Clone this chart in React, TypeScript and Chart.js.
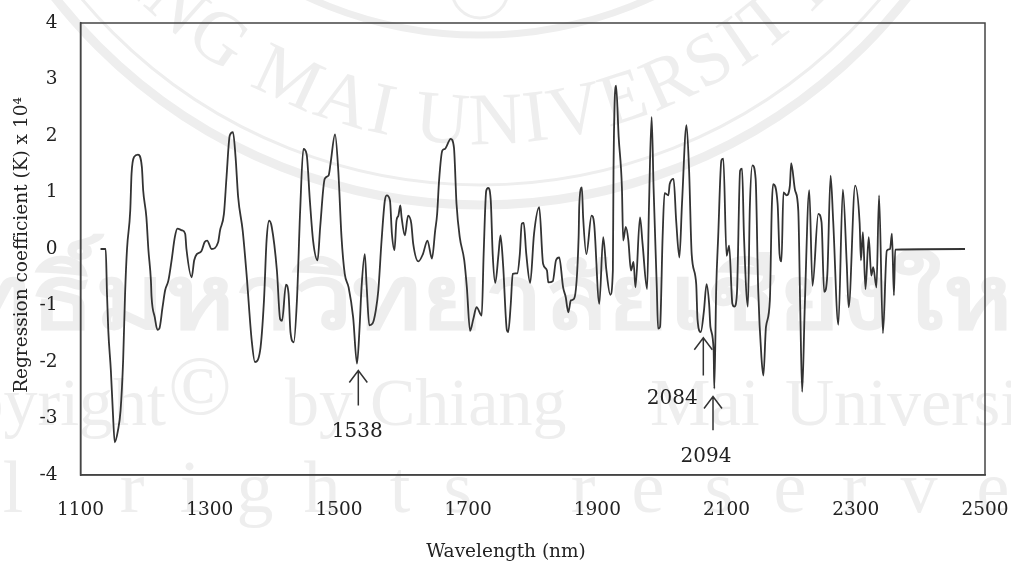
import React, { useEffect, useRef } from "react";
import { Chart, registerables } from "chart.js";

Chart.register(...registerables);

const wavelengths = [
  1131,1139,1141,1143,1147,1150,1153,1158,1162,1166,1169,1172,1177,1179,1183,1189,1195,1197,1202,1205,
  1209,1210,1215,1219,1222,1227,1231,1236,1241,1246,1250,1257,1262,1264,1272,1276,1280,1287,1292,1296,
  1303,1313,1316,1322,1326,1331,1336,1340,1344,1351,1357,1365,1370,1378,1384,1388,1392,1396,1404,1409,
  1412,1418,1422,1425,1430,1435,1440,1445,1450,1455,1460,1467,1471,1478,1484,1487,1494,1499,1504,1509,
  1515,1522,1528,1532,1535,1540,1543,1547,1552,1557,1561,1566,1571,1574,1579,1582,1586,1589,1592,1595,
  1597,1602,1607,1612,1615,1623,1630,1637,1644,1649,1652,1655,1660,1664,1673,1678,1682,1687,1694,1698,
  1703,1708,1713,1721,1724,1728,1731,1735,1738,1742,1747,1750,1754,1760,1762,1766,1769,1776,1780,1783,
  1786,1790,1796,1802,1810,1816,1822,1824,1831,1836,1841,1847,1851,1855,1859,1864,1871,1872,1876,1878,
  1883,1891,1895,1903,1909,1914,1920,1924,1925,1929,1933,1938,1940,1944,1948,1952,1956,1959,1966,1970,
  1977,1980,1984,1987,1992,1994,1997,2001,2004,2010,2012,2018,2022,2027,2031,2038,2042,2046,2053,2055,
  2060,2065,2069,2073,2075,2080,2081,2084,2087,2092,2095,2100,2104,2109,2112,2116,2121,2124,2127,2133,
  2136,2140,2145,2149,2154,2157,2161,2167,2170,2172,2179,2182,2185,2188,2193,2198,2200,2206,2211,2214,
  2217,2221,2228,2233,2242,2247,2251,2256,2261,2265,2273,2280,2286,2289,2299,2306,2308,2311,2315,2320,
  2324,2327,2332,2336,2342,2348,2353,2356,2359,2361,2469,
];

const coefficients = [
  0,0,-0.79,-1.44,-2.15,-2.86,-3.42,-3.21,-2.86,-1.97,-0.79,0,0.68,1.33,1.63,1.67,1.45,1.04,0.56,0,
  -0.56,-0.85,-1.21,-1.43,-1.41,-1.03,-0.73,-0.56,-0.2,0.21,0.36,0.33,0.27,0,-0.5,-0.2,-0.09,-0.04,0.12,0.15,
  0,0.12,0.33,0.62,1.27,2.01,2.07,1.63,0.92,0.33,-0.44,-1.62,-2,-1.8,-0.91,0.15,0.5,0.39,-0.38,-1.24,
  -1.27,-0.63,-0.79,-1.47,-1.65,-0.91,0.68,1.77,1.68,0.86,0.15,-0.2,0.39,1.24,1.3,1.51,2.03,1.39,0.21,-0.44,
  -0.68,-1.21,-2.03,-1.38,-0.68,-0.09,-0.68,-1.35,-1.32,-1.09,-0.73,0.15,0.85,0.95,0.86,0.27,-0.02,0.5,0.59,0.77,
  0.56,0.24,0.59,0.45,0.09,-0.22,-0.09,0.15,-0.17,0.33,0.62,1.21,1.74,1.77,1.95,1.8,0.8,0.21,-0.2,-0.68,
  -1.45,-1.24,-1.03,-1.18,-0.09,1.03,1.08,0.86,-0.09,-0.6,-0.09,0.24,-0.26,-1.44,-1.47,-0.97,-0.44,-0.43,-0.09,0.45,
  0.46,-0.09,-0.6,0.27,0.74,-0.26,-0.38,-0.59,-0.57,-0.2,-0.15,-0.68,-0.85,-1.12,-0.91,-0.88,0.21,0.77,1.09,0.56,
  -0.09,0.59,0.45,-0.97,0.21,-0.38,-0.81,-0.38,1.39,2.89,1.98,1.09,0.15,0.39,0.15,-0.38,-0.23,-0.68,0.56,0.09,
  -0.71,0.8,2.34,1.09,-0.68,-1.41,-1.38,0.21,0.99,0.95,1.15,1.24,0.5,-0.15,0.8,2.19,1.39,-0.09,-0.62,-1.24,
  -1.47,-1.09,-0.62,-0.97,-1.38,-1.8,-2.47,-0.68,0.21,1.57,1.6,-0.12,0.06,-0.97,-1.02,-0.79,1.39,1.42,0.21,-1.02,
  0.74,1.48,1.24,-0.74,-1.92,-2.24,-1.38,-0.91,0.74,1.15,0.8,-0.09,-0.22,1,0.95,1.12,1.52,1.04,0.68,-1.03,
  -2.53,-1.03,1.04,-0.65,0.62,0.47,-0.76,-0.44,1.3,0.5,-1.34,1.05,-0.26,-1.03,1.12,0.45,-0.2,0.3,-0.71,0.21,
  -0.47,-0.32,-0.68,0.95,-1.49,-0.03,0,0.27,-0.82,-0.01,0,
];

const xTicks = [1100, 1300, 1500, 1700, 1900, 2100, 2300, 2500];
const yTicks = [-4, -3, -2, -1, 0, 1, 2, 3, 4];

const arrowLabels = ["1538", "2084", "2094"];
const arrowWavelengths = [1530, 2064, 2079];
const arrowTips = [-2.15, -1.57, -2.61];
const arrowTails = [-2.77, -2.24, -3.21];

const xTitle = "Wavelength (nm)";
const yTitle = "Regression coefficient (K) x 10\u2074";
const sealText = "CHIANG MAI UNIVERSITY";
const thaiPrefix = "\u0e25\u0e34\u0e02\u0e2a\u0e34\u0e17\u0e18\u0e34\u0e4c";
const thaiRest = "\u0e21\u0e2b\u0e32\u0e27\u0e34\u0e17\u0e22\u0e32\u0e25\u0e31\u0e22\u0e40\u0e0a\u0e35\u0e22\u0e07\u0e43\u0e2b\u0e21\u0e48";
const rightsLetters = ["l", "r", "i", "g", "h", "t", "s", "r", "e", "s", "e", "r", "v", "e"];
const rightsCentres = [13, 132, 190, 255, 322, 400, 458, 583, 648, 719, 790, 854, 919, 993];

const SERIF = '"Liberation Serif", serif';
const LABEL_FONT = '"DejaVu Serif", serif';

const watermark = {
  id: "watermark",
  beforeDraw(chart: any) {
    const c = chart.ctx;
    c.save();
    c.fillStyle = "#ffffff";
    c.fillRect(0, 0, chart.width, chart.height);
    c.strokeStyle = "#eeeeee";
    c.fillStyle = "#eeeeee";
    const cx = 481, cy = -336;
    c.lineWidth = 9;
    c.beginPath(); c.arc(cx, cy, 541, 0, Math.PI); c.stroke();
    c.lineWidth = 3;
    c.beginPath(); c.arc(cx, cy, 521, 0, Math.PI); c.stroke();
    c.lineWidth = 7;
    c.beginPath(); c.arc(480, -376, 411, 0, Math.PI); c.stroke();
    c.lineWidth = 3;
    c.beginPath(); c.arc(480, -10, 28, 0, Math.PI); c.stroke();

    c.font = `74px ${SERIF}`;
    c.textAlign = "center";
    c.textBaseline = "alphabetic";
    const R = 480;
    const tracking = 3;
    const uIndex = sealText.indexOf("U");
    const widths = Array.from(sealText).map((ch) => c.measureText(ch).width);
    let arcPos = -41;
    const positions: number[] = new Array(sealText.length).fill(0);
    positions[uIndex] = arcPos;
    for (let i = uIndex + 1; i < sealText.length; i++) {
      arcPos += (widths[i - 1] + widths[i]) / 2 + tracking;
      positions[i] = arcPos;
    }
    arcPos = -41;
    for (let i = uIndex - 1; i >= 0; i--) {
      arcPos -= (widths[i + 1] + widths[i]) / 2 + tracking;
      positions[i] = arcPos;
    }
    Array.from(sealText).forEach((ch, i) => {
      const a = positions[i] / R;
      c.save();
      c.translate(cx + R * Math.sin(a), cy + R * Math.cos(a));
      c.rotate(-a);
      c.fillText(ch, 0, 0);
      c.restore();
    });

    c.font = `68px ${SERIF}`;
    c.textAlign = "right";
    c.fillText("Copyright", 166, 425);
    c.textAlign = "left";
    c.font = `84px ${SERIF}`;
    c.fillText("\u00a9", 168, 414);
    c.font = `68px ${SERIF}`;
    c.fillText("by Chiang", 285, 425);
    c.fillText("Mai", 650, 425);
    c.fillText("University", 785, 425);

    c.font = `74px ${SERIF}`;
    c.textAlign = "center";
    rightsLetters.forEach((ch, i) => c.fillText(ch, rightsCentres[i], 512));

    c.textAlign = "left";
    c.font = `bold 88px "Noto Sans", "DejaVu Sans", sans-serif`;
    const stretch = 1.2;
    const prefixWidth = c.measureText(thaiPrefix).width * stretch;
    c.save();
    c.translate(95 - prefixWidth, 328);
    c.scale(stretch, 1);
    c.fillText(thaiPrefix + thaiRest, 0, 0);
    c.restore();
    c.restore();
  },
};

const overlay = {
  id: "overlay",
  afterDraw(chart: any) {
    const c = chart.ctx;
    const { left, right, top, bottom } = chart.chartArea;
    const xs = chart.scales.x, ys = chart.scales.y;
    c.save();
    c.strokeStyle = "#444";
    c.lineWidth = 1.5;
    c.strokeRect(left, top, right - left, bottom - top);
    c.fillStyle = "#222";
    c.font = `20px ${LABEL_FONT}`;
    c.textAlign = "center";
    c.textBaseline = "middle";
    arrowLabels.forEach((label, i) => {
      const x = xs.getPixelForValue(arrowWavelengths[i]);
      const tip = ys.getPixelForValue(arrowTips[i]);
      const tail = ys.getPixelForValue(arrowTails[i]);
      c.beginPath();
      c.moveTo(x, tail); c.lineTo(x, tip);
      c.moveTo(x - 9, tip + 12); c.lineTo(x, tip); c.lineTo(x + 9, tip + 12);
      c.strokeStyle = "#333";
      c.stroke();
      const tx = i === 1 ? x - 31 : i === 2 ? x - 7 : x - 1;
      const ty = i === 1 ? tail + 23 : tail + 26;
      c.fillText(label, tx, ty);
    });
    c.font = `18.5px ${LABEL_FONT}`;
    c.fillText(xTitle, 506, 552);
    c.translate(22, 245);
    c.rotate(-Math.PI / 2);
    c.fillText(yTitle, 0, 0);
    c.restore();
  },
};

const noScalePadding = (s: any) => {
  s.paddingLeft = 0;
  s.paddingRight = 0;
  s.paddingTop = 0;
  s.paddingBottom = 0;
};

export default function App() {
  const ref = useRef<HTMLCanvasElement>(null);
  useEffect(() => {
    document.body.style.margin = "0";
    const chart = new Chart(ref.current as HTMLCanvasElement, {
      type: "scatter",
      data: {
        datasets: [
          {
            data: wavelengths.map((x, i) => ({ x, y: coefficients[i] })),
            showLine: true,
            borderColor: "#333333",
            borderWidth: 1.8,
            pointRadius: 0,
            cubicInterpolationMode: "monotone",
          },
        ],
      },
      options: {
        responsive: false,
        animation: false,
        layout: { padding: { top: 23, right: 26, left: 0, bottom: 0 } },
        plugins: { legend: { display: false }, tooltip: { enabled: false } },
        scales: {
          x: {
            type: "linear",
            min: 1100,
            max: 2500,
            afterBuildTicks: (s: any) => { s.ticks = xTicks.map((value) => ({ value })); },
            afterFit: (s: any) => { s.height = 87; noScalePadding(s); },
            grid: { display: false, tickLength: 5 },
            border: { color: "#444", width: 1.5 },
            ticks: { color: "#222", font: { family: LABEL_FONT, size: 18.5 }, maxRotation: 0, padding: 19, callback: (v: any) => String(v) },
          },
          y: {
            type: "linear",
            min: -4,
            max: 4,
            afterBuildTicks: (s: any) => { s.ticks = yTicks.map((value) => ({ value })); },
            afterFit: (s: any) => { s.width = 80.5; noScalePadding(s); },
            grid: { display: false, tickLength: 5 },
            border: { color: "#444", width: 1.5 },
            ticks: { color: "#222", font: { family: LABEL_FONT, size: 18.5 }, padding: 18, callback: (v: any) => String(v) },
          },
        },
      },
      plugins: [watermark, overlay],
    } as any);
    return () => chart.destroy();
  }, []);
  return <canvas ref={ref} width={1011} height={562} style={{ display: "block", filter: "blur(0.4px)" }} />;
}
